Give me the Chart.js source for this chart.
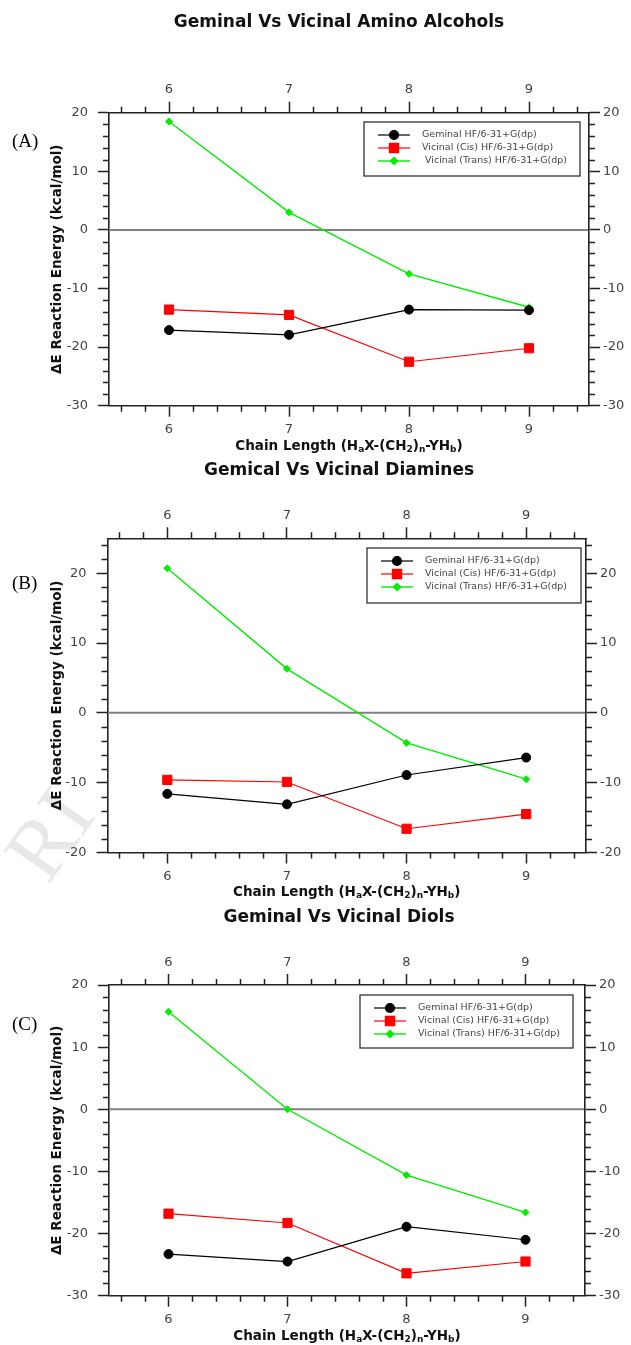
<!DOCTYPE html>
<html>
<head>
<meta charset="utf-8">
<script src="https://cdn.jsdelivr.net/npm/chart.js@4.4.0/dist/chart.umd.min.js"></script>
<style>
  html, body { margin: 0; padding: 0; background: #fff; }
  body { width: 631px; height: 1345px; position: relative; overflow: hidden; }
  canvas { position: absolute; left: 0; }
  .tag { position: absolute; left: 12px; font: 19px "Liberation Serif", serif; line-height: 20px; color: #000; }
  #wm { position: absolute; left: 0; top: 760px; width: 106px; height: 200px; overflow: hidden; }
  #wm span { position: absolute; left: 6px; top: 24px; font: 86px "Liberation Serif", serif; color: rgba(0,0,0,0.09);
             transform: rotate(-55deg); transform-origin: 50% 50%; white-space: nowrap; }
</style>
</head>
<body>
<div id="wm"><span>RI</span></div>
<canvas id="chartA" width="631" height="458" style="top:0px"></canvas>
<canvas id="chartB" width="631" height="447" style="top:458px"></canvas>
<canvas id="chartC" width="631" height="440" style="top:905px"></canvas>
<div class="tag" style="top:131px">(A)</div>
<div class="tag" style="top:573px">(B)</div>
<div class="tag" style="top:1014px">(C)</div>

<script>
// Chain length on the x axis, shared by the three panels
const chainLength = [6, 7, 8, 9];
const xTicks = [6, 7, 8, 9];

const seriesLabels = ['Geminal HF/6-31+G(dp)', 'Vicinal (Cis) HF/6-31+G(dp)', 'Vicinal (Trans) HF/6-31+G(dp)'];

// (A) amino alcohols
const aminoGeminal = [-17.1, -17.9, -13.6, -13.7];
const aminoCis = [-13.6, -14.5, -22.5, -20.2];
const aminoTrans = [18.5, 3.0, -7.5, -13.2];
const aminoYTicks = [-30, -20, -10, 0, 10, 20];

// (B) diamines
const diamineGeminal = [-11.6, -13.1, -8.9, -6.4];
const diamineCis = [-9.6, -9.9, -16.6, -14.5];
const diamineTrans = [20.7, 6.3, -4.3, -9.5];
const diamineYTicks = [-20, -10, 0, 10, 20];

// (C) diols
const diolGeminal = [-23.3, -24.5, -18.9, -21.0];
const diolCis = [-16.8, -18.3, -26.4, -24.5];
const diolTrans = [15.7, 0, -10.6, -16.6];
const diolYTicks = [-30, -20, -10, 0, 10, 20];

const AXIS = '#222';
const FONT = '"DejaVu Sans", sans-serif';

const seriesStyles = [
  { color: '#000000', pointStyle: 'circle', radius: 4.5, width: 1.2 },
  { color: '#ff0000', pointStyle: 'rect', radius: 6.5, width: 1.2 },
  { color: '#00ee00', pointStyle: 'rectRot', radius: 3.5, width: 1.4 }
];

const xTitleParts = [['Chain Length (H', 0], ['a', 1], ['X-(CH', 0], ['2', 1], [')', 0], ['n', 1], ['-YH', 0], ['b', 1], [')', 0]];

const panels = [
  {
    id: 'chartA', title: 'Geminal Vs Vicinal Amino Alcohols',
    series: [aminoGeminal, aminoCis, aminoTrans],
    labels: [seriesLabels[0], seriesLabels[1], ' ' + seriesLabels[2]],
    yMin: -30, yMax: 20, yTicks: aminoYTicks,
    area: { left: 109, right: 589, top: 112.7, bottom: 405.7 },
    titleY: 23, xTitleY: 446,
    legend: { x: 364, y: 122, w: 216, h: 54 }
  },
  {
    id: 'chartB', title: 'Gemical Vs Vicinal Diamines',
    series: [diamineGeminal, diamineCis, diamineTrans],
    labels: seriesLabels,
    yMin: -20, yMax: 25, yTicks: diamineYTicks,
    area: { left: 107.5, right: 586, top: 80.3, bottom: 394.5 },
    titleY: 12.7, xTitleY: 434,
    legend: { x: 367, y: 90, w: 214, h: 55 }
  },
  {
    id: 'chartC', title: 'Geminal Vs Vicinal Diols',
    series: [diolGeminal, diolCis, diolTrans],
    labels: seriesLabels,
    yMin: -30, yMax: 20, yTicks: diolYTicks,
    area: { left: 109, right: 585, top: 80, bottom: 390.7 },
    titleY: 13, xTitleY: 431,
    legend: { x: 360, y: 90, w: 213, h: 53 }
  }
];

function drawRich(ctx, parts, cx, y, size) {
  const big = `bold ${size}px ${FONT}`;
  const small = `bold ${Math.round(size * 0.68)}px ${FONT}`;
  let w = 0;
  parts.forEach(p => { ctx.font = p[1] ? small : big; w += ctx.measureText(p[0]).width; });
  let x = cx - w / 2;
  ctx.textAlign = 'left';
  ctx.textBaseline = 'middle';
  parts.forEach(p => {
    ctx.font = p[1] ? small : big;
    ctx.fillText(p[0], x, p[1] ? y + size * 0.3 : y);
    x += ctx.measureText(p[0]).width;
  });
}

function makeChart(p) {
  const canvas = document.getElementById(p.id);
  const W = canvas.width, H = canvas.height;

  const datasets = p.series.map((vals, i) => {
    const s = seriesStyles[i];
    return {
      label: p.labels[i],
      data: chainLength.map((x, k) => ({ x, y: vals[k] })),
      borderColor: s.color,
      backgroundColor: s.color,
      borderWidth: s.width,
      pointStyle: s.pointStyle,
      pointRadius: s.radius,
      pointBackgroundColor: s.color,
      pointBorderColor: s.color,
      pointBorderWidth: 1,
      tension: 0
    };
  });

  const tickFont = { family: FONT, size: 13 };
  const grid = { drawOnChartArea: false, drawTicks: true, tickLength: 11, tickColor: AXIS, tickWidth: 1.5 };
  const border = { display: true, color: AXIS, width: 1.6 };
  const setX = s => { s.ticks = xTicks.map(v => ({ value: v })); };
  const setY = s => { s.ticks = p.yTicks.map(v => ({ value: v })); };

  const decor = {
    id: 'decor',
    beforeDatasetsDraw(chart) {
      const ctx = chart.ctx, a = chart.chartArea;
      const y0 = chart.scales.y.getPixelForValue(0);
      ctx.save();
      ctx.strokeStyle = '#808080';
      ctx.lineWidth = 2;
      ctx.beginPath();
      ctx.moveTo(a.left + 1, y0);
      ctx.lineTo(a.right - 1, y0);
      ctx.stroke();
      ctx.restore();
    },
    afterDraw(chart) {
      const ctx = chart.ctx, a = chart.chartArea;
      const xs = chart.scales.x, ys = chart.scales.y;
      ctx.save();
      // minor ticks
      ctx.strokeStyle = AXIS;
      ctx.lineWidth = 1.5;
      ctx.beginPath();
      for (let k = Math.ceil(xs.min / 0.2); k * 0.2 <= xs.max + 1e-9; k++) {
        const v = k * 0.2;
        if (Math.abs(v - Math.round(v)) < 1e-6) continue;
        const px = Math.round(xs.getPixelForValue(v)) + 0.5;
        ctx.moveTo(px, a.bottom); ctx.lineTo(px, a.bottom + 6);
        ctx.moveTo(px, a.top); ctx.lineTo(px, a.top - 6);
      }
      for (let v = Math.ceil(ys.min / 2) * 2; v <= ys.max; v += 2) {
        if (v % 10 === 0) continue;
        const py = Math.round(ys.getPixelForValue(v)) + 0.5;
        ctx.moveTo(a.left, py); ctx.lineTo(a.left - 6, py);
        ctx.moveTo(a.right, py); ctx.lineTo(a.right + 6, py);
      }
      ctx.stroke();

      // panel title
      ctx.fillStyle = '#111';
      ctx.font = `bold 17px ${FONT}`;
      ctx.textAlign = 'center';
      ctx.textBaseline = 'middle';
      ctx.fillText(p.title, 339, p.titleY);

      // x axis title with subscripts
      drawRich(ctx, xTitleParts, (a.left + a.right) / 2, p.xTitleY, 13.5);

      // legend box inside the plot
      const L = p.legend;
      ctx.fillStyle = '#fff';
      ctx.fillRect(L.x, L.y, L.w, L.h);
      ctx.strokeStyle = '#333';
      ctx.lineWidth = 1.3;
      ctx.strokeRect(L.x, L.y, L.w, L.h);
      chart.data.datasets.forEach((ds, i) => {
        const s = seriesStyles[i];
        const ry = L.y + 13 + i * 13;
        ctx.strokeStyle = s.color;
        ctx.lineWidth = s.width;
        ctx.beginPath();
        ctx.moveTo(L.x + 14, ry); ctx.lineTo(L.x + 46, ry);
        ctx.stroke();
        ctx.fillStyle = s.color;
        Chart.helpers.drawPoint(ctx, { pointStyle: s.pointStyle, radius: s.radius, rotation: 0, borderWidth: 1 }, L.x + 30, ry);
        ctx.fillStyle = '#444';
        ctx.font = `9.5px ${FONT}`;
        ctx.textAlign = 'left';
        ctx.textBaseline = 'middle';
        ctx.fillText(ds.label, L.x + 58, ry);
      });
      ctx.restore();
    }
  };

  return new Chart(canvas, {
    type: 'line',
    data: { datasets },
    options: {
      responsive: false,
      animation: false,
      layout: { padding: 0 },
      plugins: { legend: { display: false }, title: { display: false }, tooltip: { enabled: false } },
      scales: {
        x: {
          type: 'linear', position: 'bottom', min: 5.5, max: 9.5,
          afterBuildTicks: setX,
          afterFit: s => { s.height = H - p.area.bottom; },
          ticks: { font: tickFont, color: '#444', padding: 5.5, maxRotation: 0 },
          grid, border
        },
        x2: {
          type: 'linear', position: 'top', min: 5.5, max: 9.5,
          afterBuildTicks: setX,
          afterFit: s => { s.height = p.area.top; },
          ticks: { font: tickFont, color: '#444', padding: 4, maxRotation: 0 },
          grid, border
        },
        y: {
          type: 'linear', position: 'left', min: p.yMin, max: p.yMax,
          afterBuildTicks: setY,
          afterFit: s => { s.width = p.area.left; },
          ticks: { font: tickFont, color: '#444', padding: 10 },
          title: {
            display: true, text: 'ΔE Reaction Energy (kcal/mol)', color: '#111',
            font: { family: FONT, size: 13.5, weight: 'bold' }, padding: { top: 49, bottom: 0 }
          },
          grid, border
        },
        y2: {
          type: 'linear', position: 'right', min: p.yMin, max: p.yMax,
          afterBuildTicks: setY,
          afterFit: s => { s.width = W - p.area.right; },
          ticks: { font: tickFont, color: '#444', padding: 3 },
          grid, border
        }
      }
    },
    plugins: [decor]
  });
}

panels.forEach(makeChart);
</script>
</body>
</html>
